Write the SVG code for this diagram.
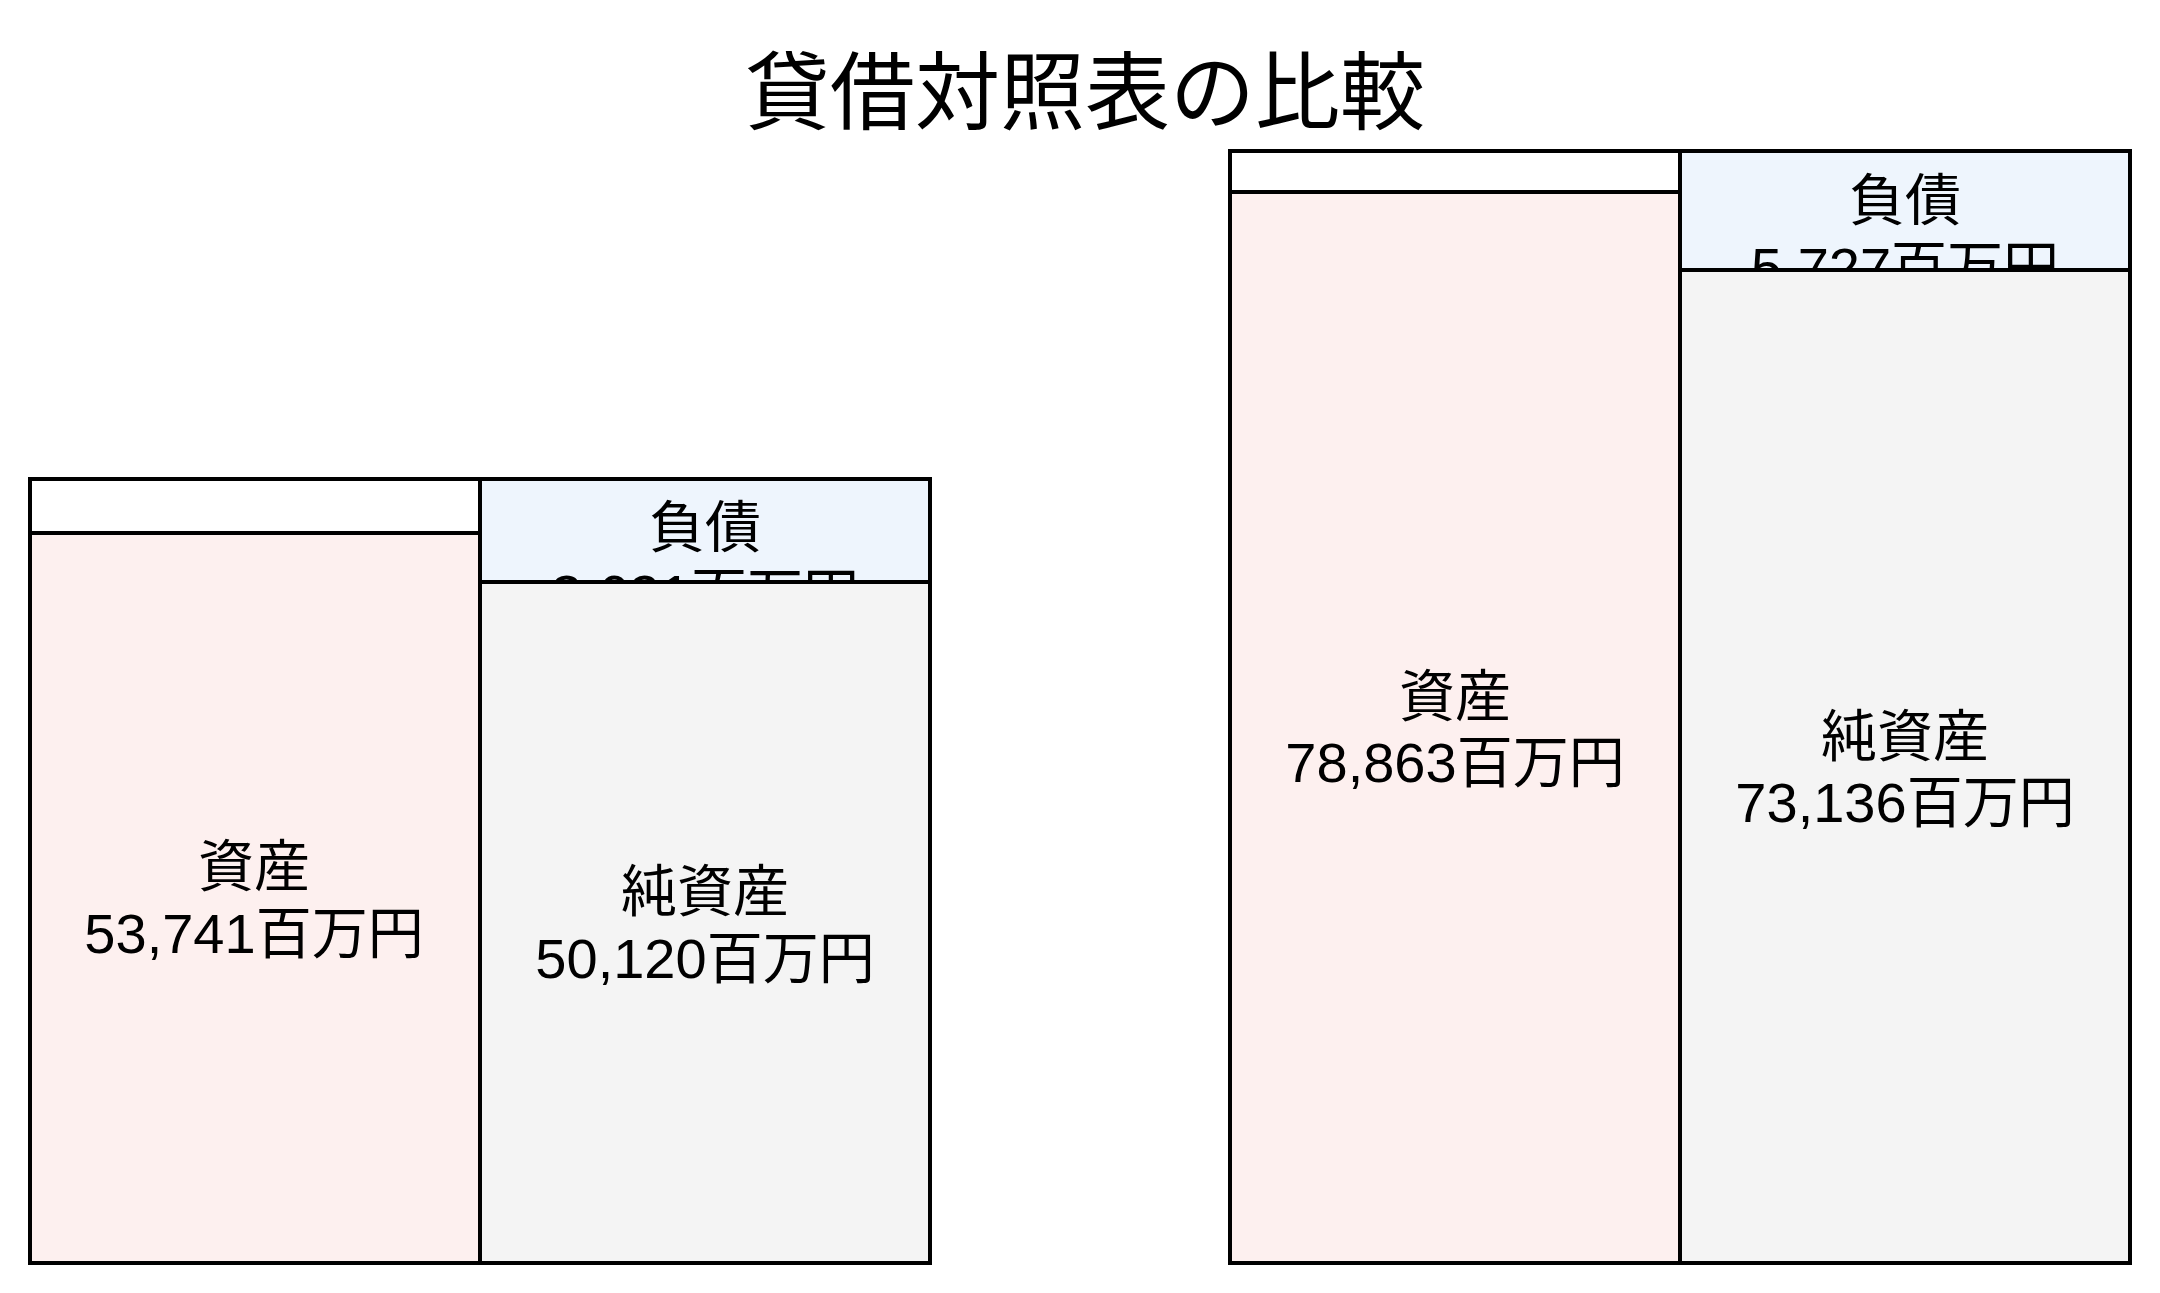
<svg xmlns="http://www.w3.org/2000/svg" width="2160" height="1293" viewBox="0 0 2160 1293">
<style>
  .box { stroke: #000; stroke-width: 4; }
  .blank { fill: #ffffff; }
  .asset { fill: #fdf0ef; }
  .liab { fill: #eef5fd; }
  .net { fill: #f4f4f4; }
  text { font-family: "Liberation Sans", "Noto Sans CJK JP", sans-serif; fill: #000; text-anchor: middle; }
  .lbl { font-size: 56px; }
  .title { font-size: 85px; }
</style>
<rect width="2160" height="1293" fill="#ffffff"/>
<text class="title" x="1085" y="123">貸借対照表の比較</text>

<g id="chart-left">
  <g id="left-blank"><rect class="box blank" x="30" y="479" width="450" height="54"/></g>
  <g id="left-assets">
    <rect class="box asset" x="30" y="533" width="450" height="730"/>
    <text class="lbl" x="254" y="886">資産</text>
    <text class="lbl" x="254" y="953">53,741百万円</text>
  </g>
  <g id="left-liabilities">
    <rect class="box liab" x="480" y="479" width="450" height="103"/>
    <text class="lbl" x="705" y="547">負債</text>
    <text class="lbl" x="705" y="614">3,621百万円</text>
  </g>
  <g id="left-net-assets">
    <rect class="box net" x="480" y="582" width="450" height="681"/>
    <text class="lbl" x="705" y="911">純資産</text>
    <text class="lbl" x="705" y="978">50,120百万円</text>
  </g>
</g>

<g id="chart-right">
  <g id="right-blank"><rect class="box blank" x="1230" y="151" width="450" height="41"/></g>
  <g id="right-assets">
    <rect class="box asset" x="1230" y="192" width="450" height="1071"/>
    <text class="lbl" x="1455" y="716">資産</text>
    <text class="lbl" x="1455" y="782">78,863百万円</text>
  </g>
  <g id="right-liabilities">
    <rect class="box liab" x="1680" y="151" width="450" height="119"/>
    <text class="lbl" x="1905" y="220">負債</text>
    <text class="lbl" x="1905" y="287">5,727百万円</text>
  </g>
  <g id="right-net-assets">
    <rect class="box net" x="1680" y="270" width="450" height="993"/>
    <text class="lbl" x="1905" y="756">純資産</text>
    <text class="lbl" x="1905" y="822">73,136百万円</text>
  </g>
</g>

<g id="connectors"></g>
</svg>
